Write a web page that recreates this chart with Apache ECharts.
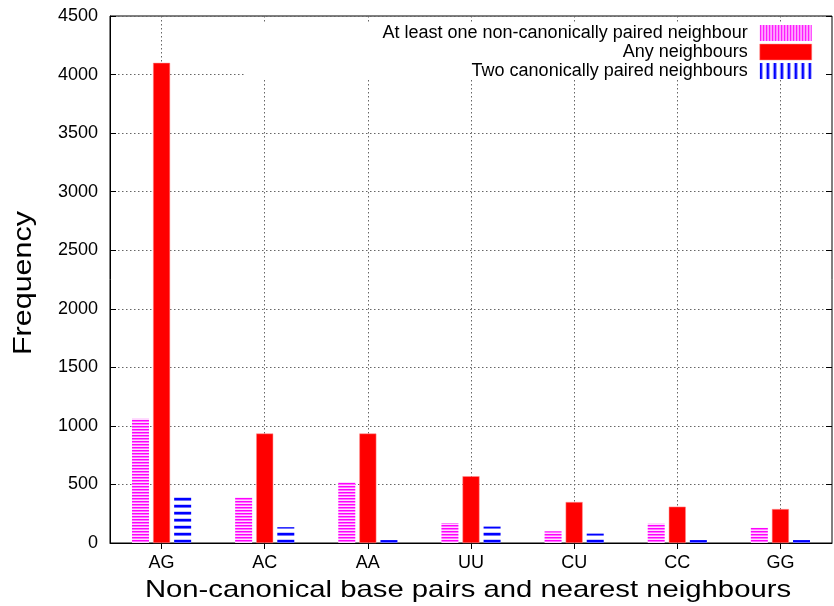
<!DOCTYPE html>
<html>
<head>
<meta charset="utf-8">
<script src="https://cdn.jsdelivr.net/npm/echarts@6/dist/echarts.min.js"></script>
<style>html,body{margin:0;padding:0;background:#fff}#c{width:834px;height:606px}</style>
</head>
<body>
<div id="c"></div>
<script>
const categories = ['AG', 'AC', 'AA', 'UU', 'CU', 'CC', 'GG'];
const seriesNames = ['At least one non-canonically paired neighbour', 'Any neighbours', 'Two canonically paired neighbours'];
const nonCanonical = [1060, 390, 520, 170, 100, 165, 130];
const anyNeighbours = [4100, 935, 935, 570, 350, 310, 290];
const twoCanonical = [415, 135, 25, 140, 80, 25, 25];
const yTicks = [0, 500, 1000, 1500, 2000, 2500, 3000, 3500, 4000, 4500];
const xTitle = 'Non-canonical base pairs and nearest neighbours';
const yTitle = 'Frequency';

function stripe(colors, horizontal) {
  const c = document.createElement('canvas');
  const n = colors.length;
  c.width = horizontal ? 1 : n;
  c.height = horizontal ? n : 1;
  const g = c.getContext('2d');
  colors.forEach((col, i) => {
    g.fillStyle = col;
    if (horizontal) g.fillRect(0, i, 1, 1); else g.fillRect(i, 0, 1, 1);
  });
  return { image: c, repeat: 'repeat' };
}
const magentaRows = ['#ff00ff', '#ff70ff', '#ffd8ff'];
const blueRows = ['#c8c8ff', '#0000ff', '#0000ff', '#7070ff', '#ffffff', '#ffffff', '#ffffff'];
const blueCols = ['#0000ff', '#0000ff', '#8080ff', '#ffffff', '#ffffff', '#ffffff', '#c0c0ff'];
const magentaH = stripe(magentaRows, true);
const magentaV = stripe(magentaRows, false);
const blueH = stripe(blueRows, true);
const blueV = stripe(blueCols, false);

const font = 'Liberation Sans, Arial, Helvetica, sans-serif';
const chart = echarts.init(document.getElementById('c'), null, { renderer: 'canvas' });
chart.setOption({
  animation: false,
  backgroundColor: '#fff',
  textStyle: { fontFamily: font, color: '#000' },
  grid: { left: 110, right: 2, top: 16, bottom: 63, outerBoundsMode: 'none', containLabel: false,
    show: true, borderColor: '#000', borderWidth: 1, backgroundColor: 'transparent' },
  legend: {
    orient: 'vertical', align: 'right', right: 10, top: 23,
    padding: [1, 12, 0, 138], backgroundColor: '#fff',
    itemWidth: 52, itemHeight: 16, itemGap: 1, icon: 'rect',
    textStyle: { fontFamily: font, fontSize: 18, color: '#000', lineHeight: 16, padding: [0, 7, 0, 0] },
    data: [
      { name: seriesNames[0], itemStyle: { color: magentaV } },
      { name: seriesNames[1], itemStyle: { color: '#ff0000', borderColor: '#ff9090', borderWidth: 0.5 } },
      { name: seriesNames[2], itemStyle: { color: blueV } }
    ]
  },
  graphic: [
    { type: 'text', x: 468, y: 590, scaleX: 1.22, z: 10,
      style: { text: xTitle, font: '24px ' + font, fill: '#000', align: 'center', verticalAlign: 'middle' } },
    { type: 'text', x: 24, y: 283, rotation: Math.PI / 2, scaleX: 1.22, z: 10,
      style: { text: yTitle, font: '25px ' + font, fill: '#000', align: 'center', verticalAlign: 'middle' } }
  ],
  xAxis: [{
    type: 'category', data: categories, position: 'bottom',
    axisLine: { lineStyle: { color: '#000', width: 1 } },
    axisTick: { show: true, inside: true, alignWithLabel: true, length: 6, lineStyle: { color: '#000' } },
    axisLabel: { fontSize: 18, color: '#000', fontFamily: font, margin: 11 },
    splitLine: { show: true, alignWithLabel: true, lineStyle: { color: '#666', type: [1.5, 2.5], width: 1 } }
  }, {
    type: 'category', data: categories, position: 'top',
    axisLine: { show: false },
    axisTick: { show: true, inside: true, alignWithLabel: true, length: 6, lineStyle: { color: '#000' } },
    axisLabel: { show: false }, splitLine: { show: false }
  }],
  yAxis: [{
    type: 'value', min: 0, max: 4500, interval: 500,
    axisLine: { show: true, lineStyle: { color: '#000', width: 1 } },
    axisTick: { show: true, inside: true, length: 6, lineStyle: { color: '#000' } },
    axisLabel: { fontSize: 18, color: '#000', fontFamily: font, margin: 12,
      formatter: v => (yTicks.indexOf(v) >= 0 ? String(v) : '') },
    splitLine: { show: true, lineStyle: { color: '#666', type: [1.5, 2.5], width: 1 } }
  }, {
    type: 'value', min: 0, max: 4500, interval: 500, position: 'right',
    axisLine: { show: false },
    axisTick: { show: true, inside: true, length: 6, lineStyle: { color: '#000' } },
    axisLabel: { show: false }, splitLine: { show: false }
  }],
  series: [
    { name: seriesNames[0], type: 'bar', data: nonCanonical, barWidth: 17, barGap: '24%', itemStyle: { color: magentaH } },
    { name: seriesNames[1], type: 'bar', data: anyNeighbours, barWidth: 17, barGap: '24%', itemStyle: { color: '#ff0000', borderColor: '#ff9090', borderWidth: 0.5 } },
    { name: seriesNames[2], type: 'bar', data: twoCanonical, barWidth: 17, barGap: '24%', itemStyle: { color: blueH } }
  ]
});
</script>
</body>
</html>
